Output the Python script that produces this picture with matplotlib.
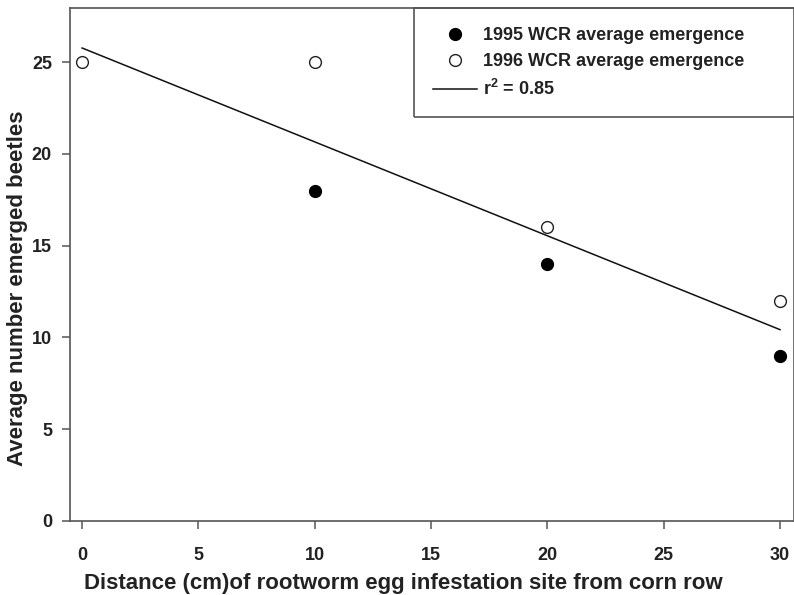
import numpy as np
import matplotlib
matplotlib.use("Agg")
import matplotlib.pyplot as plt
from matplotlib.patches import Rectangle

plt.rcParams['font.family'] = ['Liberation Sans', 'DejaVu Sans']
plt.rcParams['font.weight'] = 'bold'
plt.rcParams['mathtext.fontset'] = 'custom'
plt.rcParams['mathtext.bf'] = 'Liberation Sans:bold'
plt.rcParams['mathtext.rm'] = 'Liberation Sans:bold'

# data
x_1995 = [10, 20, 30]
y_1995 = [18, 14, 9]
x_1996 = [0, 10, 20, 30]
y_1996 = [25, 25, 16, 12]
x_ticks = [0, 5, 10, 15, 20, 25, 30]
y_ticks = [0, 5, 10, 15, 20, 25]

# linear fit over both years
all_x = np.array(x_1995 + x_1996)
all_y = np.array(y_1995 + y_1996)
slope, intercept = np.polyfit(all_x, all_y, 1)
fit_x = np.array([0, 30])
fit_y = slope * fit_x + intercept

fig = plt.figure(figsize=(7.94, 5.95), dpi=100)
ax = fig.add_axes([0.0882, 0.1244, 0.9118, 0.8622])

spine_col = '#555555'
ax.plot(x_1995, y_1995, 'o', color='black', markersize=8.5, label='1995 WCR average emergence')
ax.plot(x_1996, y_1996, 'o', markerfacecolor='white', markeredgecolor='#222222',
        markeredgewidth=1.0, markersize=8.5, label='1996 WCR average emergence')
ax.plot(fit_x, fit_y, '-', color='#111111', linewidth=1.1, label=r'r$^\mathrm{2}$ = 0.85')

ax.set_xlim(-0.52, 30.6)
ax.set_ylim(0, 27.95)
ax.set_xticks(x_ticks)
ax.set_yticks(y_ticks)

for s in ax.spines.values():
    s.set_color(spine_col)
    s.set_linewidth(1.2)

ax.tick_params(axis='both', direction='out', length=6, width=1.1, color=spine_col,
               labelsize=13)
ax.tick_params(axis='x', pad=13)
ax.tick_params(axis='y', pad=7)
for lab in ax.get_xticklabels() + ax.get_yticklabels():
    lab.set_fontweight('bold')
    lab.set_color('#222222')

ax.set_xlabel('Distance (cm)of rootworm egg infestation site from corn row',
              fontsize=16, fontweight='bold', color='#222222')
ax.set_ylabel('Average number emerged beetles', fontsize=16, fontweight='bold',
              color='#222222')
ax.xaxis.set_label_coords(0.461, -0.101)
ax.yaxis.set_label_coords(-0.058, 0.454)

# legend box runs off the right edge of the figure in the original
leg = ax.legend(loc='upper left', bbox_to_anchor=(0.475, 1.0), borderaxespad=0,
                frameon=False, prop={'size': 13, 'weight': 'bold'},
                handlelength=2.45, borderpad=1.05, labelspacing=0.5,
                handletextpad=0.35)
for t in leg.get_texts():
    t.set_color('#222222')
ax.add_patch(Rectangle((0.475, 0.7875), 0.6, 0.2125, transform=ax.transAxes,
                       facecolor='none', edgecolor=spine_col, linewidth=1.2,
                       clip_on=False, zorder=5))

fig.savefig('out.png', dpi=100)
